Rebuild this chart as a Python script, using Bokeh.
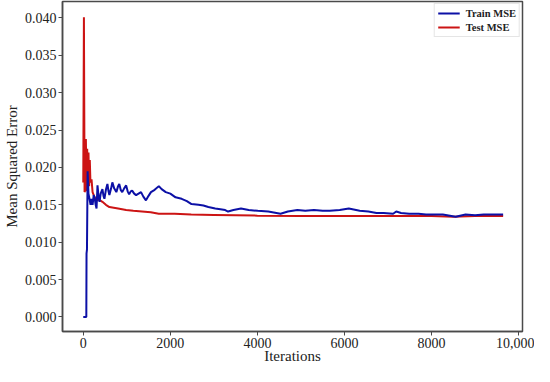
from bokeh.plotting import figure
from bokeh.models import Range1d, FixedTicker, Legend, LegendItem, NumeralTickFormatter
from bokeh.embed import file_html
from bokeh.resources import INLINE

train_iter = [0, 40, 70, 75, 85, 100, 120, 168, 190, 214, 240, 260, 285, 305, 327, 350, 373, 400, 440, 465,
              486, 520, 555, 580, 600, 640, 668, 710, 760, 800, 827, 860, 895, 940, 985, 1020, 1054, 1090, 1123, 1170,
              1214, 1270, 1327, 1380, 1440, 1500, 1555, 1640, 1736, 1800, 1895, 2000, 2120, 2260, 2380, 2486, 2645, 2760, 2873, 3032,
              3150, 3260, 3327, 3450, 3623, 3800, 4009, 4250, 4532, 4700, 4918, 5100, 5300, 5500, 5664, 5891, 6100, 6350, 6550, 6736,
              6900, 7118, 7190, 7300, 7486, 7700, 7873, 8050, 8259, 8555, 8782, 9000, 9200, 9395, 9645]
train_mse = [0.0, 0.0, 0.0, 0.0085, 0.0090, 0.0195, 0.0165, 0.0150, 0.0158, 0.0150, 0.0163, 0.0160, 0.0150, 0.0145, 0.0176, 0.0162, 0.0154, 0.0165, 0.0171, 0.0162,
             0.0158, 0.0170, 0.0178, 0.0168, 0.0163, 0.0172, 0.0180, 0.0172, 0.0167, 0.0175, 0.0178, 0.0170, 0.0167, 0.0172, 0.0176, 0.0168, 0.0164, 0.0168, 0.0169, 0.0165,
             0.0163, 0.0165, 0.0167, 0.0161, 0.0156, 0.0162, 0.0167, 0.0170, 0.0175, 0.0171, 0.0167, 0.0165, 0.0160, 0.0158, 0.0155, 0.0151, 0.0150, 0.0149, 0.0147, 0.0145,
             0.0144, 0.0143, 0.0141, 0.0143, 0.0145, 0.0143, 0.0142, 0.0141, 0.0138, 0.0141, 0.0143, 0.0142, 0.0143, 0.0142, 0.0142, 0.0143, 0.0145, 0.0142, 0.0141, 0.0139,
             0.0139, 0.0138, 0.0141, 0.0139, 0.0138, 0.0138, 0.0137, 0.0137, 0.0137, 0.0134, 0.0137, 0.0136, 0.0137, 0.0137, 0.0137]

test_iter = [0, 15, 30, 50, 60, 75, 90, 105, 120, 135, 150, 165, 190, 214, 260, 305, 360, 440, 520, 600,
             800, 985, 1150, 1350, 1550, 1735, 2100, 2480, 3000, 3500, 4000, 5000, 6000, 7000, 8000, 8500, 9000, 9645]
test_mse = [0.0180, 0.0401, 0.0167, 0.0170, 0.0238, 0.0168, 0.0225, 0.0170, 0.0220, 0.0175, 0.0210, 0.0180, 0.0184, 0.0167, 0.0160, 0.0156, 0.0157, 0.0154, 0.0150, 0.0147,
            0.0145, 0.0143, 0.0142, 0.0141, 0.0140, 0.0138, 0.0138, 0.0137, 0.01365, 0.0136, 0.01355, 0.0135, 0.0135, 0.0135, 0.0135, 0.0134, 0.0135, 0.0135]

x_ticks = [0, 2000, 4000, 6000, 8000, 10000]
x_tick_labels = ["0", "2000", "4000", "6000", "8000", "10,000"]
y_ticks = [0.0, 0.005, 0.010, 0.015, 0.020, 0.025, 0.030, 0.035, 0.040]

FONT = "Liberation Serif"

p = figure(width=534, height=366, output_backend="svg", toolbar_location=None,
           x_range=Range1d(-477, 10090), y_range=Range1d(-0.00195, 0.0422),
           min_border_top=1, min_border_right=12, min_border_left=0, min_border_bottom=0)

p.xgrid.visible = False
p.ygrid.visible = False
p.outline_line_color = "#4a4a4a"
p.outline_line_width = 1.5
p.background_fill_color = "white"
p.border_fill_color = "white"

red_line = p.line(test_iter, test_mse, line_color="#cc1414", line_width=2)
blue_line = p.line(train_iter, train_mse, line_color="#0c10a6", line_width=2)

for ax in (p.xaxis[0], p.yaxis[0]):
    ax.axis_line_color = "#4a4a4a"
    ax.axis_line_width = 1.5
    ax.major_tick_line_color = "#4a4a4a"
    ax.major_tick_out = 4
    ax.major_tick_in = 0
    ax.minor_tick_line_color = None
    ax.major_label_text_font = FONT
    ax.major_label_text_font_size = "14px"
    ax.major_label_text_color = "#222222"
    ax.axis_label_text_font = FONT
    ax.axis_label_text_font_size = "15px"
    ax.axis_label_text_font_style = "normal"
    ax.axis_label_text_color = "#222222"

p.xaxis.ticker = FixedTicker(ticks=x_ticks)
p.xaxis.major_label_overrides = {t: l for t, l in zip(x_ticks, x_tick_labels)}
p.xaxis.axis_label = "Iterations"
p.xaxis.axis_label_standoff = -3
p.xaxis.major_label_standoff = 2

p.yaxis.ticker = FixedTicker(ticks=y_ticks)
p.yaxis.formatter = NumeralTickFormatter(format="0.000")
p.yaxis.axis_label = "Mean Squared Error"
p.yaxis.axis_label_standoff = 2
p.yaxis.major_label_standoff = 2

legend = Legend(items=[LegendItem(label="Train MSE", renderers=[blue_line]),
                       LegendItem(label="Test MSE", renderers=[red_line])],
                location="top_right")
legend.label_text_font = FONT
legend.label_text_font_size = "10.5px"
legend.label_text_font_style = "bold"
legend.label_text_color = "#222222"
legend.border_line_color = "#cccccc"
legend.border_line_width = 1
legend.background_fill_alpha = 1.0
legend.glyph_width = 22
legend.glyph_height = 12
legend.label_height = 12
legend.spacing = 2
legend.padding = 3
legend.margin = 2
legend.label_standoff = 6
p.add_layout(legend)

open("out.html", "w").write(file_html(p, INLINE))
